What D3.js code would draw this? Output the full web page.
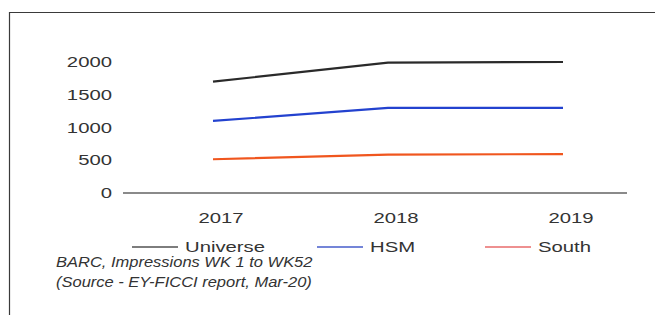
<!DOCTYPE html>
<html>
<head>
<meta charset="utf-8">
<script src="https://cdn.jsdelivr.net/npm/d3@7"></script>
<style>
  html, body { margin: 0; padding: 0; background: #fff; }
  svg { display: block; }
  text { font-family: "Liberation Sans", Arial, sans-serif; fill: #333; }
</style>
</head>
<body>
<div id="main"></div>
<script>
const ctx = {
    w: 655,
    h: 315,
    stretch: 1.45   // text in the source looks horizontally stretched
};

// data
const years = ["2017", "2018", "2019"];
const universe = [1700, 1990, 2000];
const hsm = [1100, 1300, 1300];
const south = [515, 585, 595];
const yTicks = [0, 500, 1000, 1500, 2000];

const seriesNames = ["Universe", "HSM", "South"];
const seriesColors = ["#2a2a2a", "#2342cf", "#f0561e"];
const legendColors = ["#7d7d7d", "#7485d8", "#ee9090"];
const notes = ["BARC, Impressions WK 1 to WK52", "(Source - EY-FICCI report, Mar-20)"];

function stretchedText(g, x, y, str, anchor, size, sx) {
    g.append("text")
        .attr("transform", `translate(${x},${y}) scale(${sx},1)`)
        .attr("text-anchor", anchor)
        .style("font-size", size + "px")
        .text(str);
}

function createViz() {
    let svgEl = d3.select("#main").append("svg")
        .attr("width", ctx.w)
        .attr("height", ctx.h);

    // frame (only top and left edges visible in the crop)
    svgEl.append("path")
        .attr("d", `M9.5,${ctx.h} V12.5 H${ctx.w}`)
        .attr("fill", "none")
        .attr("stroke", "#3a3a3a")
        .attr("stroke-width", 1.2);

    let x = d3.scalePoint().domain(years).range([213, 563]);
    let y = d3.scaleLinear().domain([0, 2000]).range([193, 62]);

    // y tick labels
    let yAxisG = svgEl.append("g").attr("id", "yaxis");
    yTicks.forEach(function (t) {
        stretchedText(yAxisG, 112, y(t) + 5, d3.format("d")(t), "end", 14, ctx.stretch);
    });

    // baseline
    svgEl.append("line")
        .attr("x1", 123).attr("x2", 627)
        .attr("y1", y(0)).attr("y2", y(0))
        .attr("stroke", "#8a8a8a")
        .attr("stroke-width", 2);

    // x labels
    let xAxisG = svgEl.append("g").attr("id", "xaxis");
    years.forEach(function (yr) {
        stretchedText(xAxisG, x(yr) + 8, 223, yr, "middle", 14, ctx.stretch);
    });

    // lines
    let line = d3.line()
        .x((d, i) => x(years[i]))
        .y(d => y(d));
    let lineG = svgEl.append("g").attr("id", "lines");
    [universe, hsm, south].forEach(function (s, i) {
        lineG.append("path")
            .datum(s)
            .attr("d", line)
            .attr("fill", "none")
            .attr("stroke", seriesColors[i])
            .attr("stroke-width", 2.2)
            .attr("stroke-linejoin", "round");
    });

    // legend
    let legendG = svgEl.append("g").attr("id", "legend");
    let legendX = [132, 317, 485];
    seriesNames.forEach(function (name, i) {
        legendG.append("line")
            .attr("x1", legendX[i]).attr("x2", legendX[i] + 46)
            .attr("y1", 247).attr("y2", 247)
            .attr("stroke", legendColors[i])
            .attr("stroke-width", 2);
        stretchedText(legendG, legendX[i] + 53, 252, name, "start", 14, ctx.stretch);
    });

    // source notes
    let noteG = svgEl.append("g").attr("id", "notes");
    notes.forEach(function (n, i) {
        noteG.append("text")
            .attr("transform", `translate(56,${267 + i * 20}) scale(1.1,1)`)
            .style("font-size", "15px")
            .style("font-style", "italic")
            .text(n);
    });
}

createViz();
</script>
</body>
</html>
